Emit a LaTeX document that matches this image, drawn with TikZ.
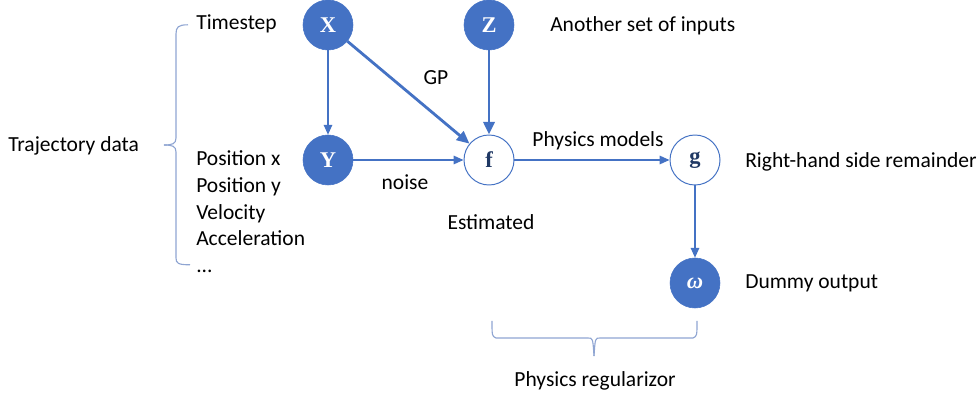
\documentclass[tikz,border=0pt]{standalone}
\usepackage{fontspec}
\setmainfont{Carlito}
\newfontfamily\letterfont{Liberation Serif}
\usetikzlibrary{arrows.meta}
\definecolor{nodeblue}{RGB}{68,114,196}
\definecolor{nodenavy}{RGB}{31,56,100}
\definecolor{bracegray}{RGB}{143,165,210}
\tikzset{
  obs/.style={circle, minimum size=1.25cm, inner sep=0pt, fill=nodeblue, draw=nodeblue, text=white, font=\letterfont\fontsize{16}{18}\selectfont\bfseries},
  latent/.style={circle, minimum size=1.25cm, inner sep=0pt, fill=white, draw=nodeblue, line width=0.7pt, text=nodenavy, font=\letterfont\fontsize{16}{18}\selectfont\bfseries},
  edge/.style={draw=nodeblue, line width=1.1pt, -{Triangle[length=7pt,width=6pt]}},
  bigedge/.style={draw=nodeblue, line width=2pt, -{Triangle[length=9pt,width=8pt]}},
  lbl/.style={font=\fontsize{15.3}{18.9}\selectfont, inner sep=0pt},
  brace/.style={draw=bracegray, line width=0.8pt}
}
\begin{document}
\begin{tikzpicture}
\useasboundingbox (0,0) rectangle (24.45,9.9);
% graph nodes
\node[obs] (X) at (8.2,9.275) {X};
\node[obs] (Z) at (12.225,9.275) {Z};
\node[obs] (Y) at (8.2,5.9) {Y};
\node[latent] (f) at (12.225,5.9) {f};
\node[latent] (g) at (17.375,5.9) {g};
\node[obs] (w) at (17.375,2.825) {\itshape ω};
% edges
\draw[edge] (X) -- (Y);
\draw[bigedge] (X) -- (f);
\draw[bigedge] (Z) -- (f);
\draw[edge] (Y) -- (f);
\draw[edge] (f) -- (g);
\draw[edge] (g) -- (w);
% labels
\node[lbl, anchor=west] (tstep) at (4.9,9.3) {Timestep};
\node[lbl, anchor=west] (inputs) at (13.75,9.25) {Another set of inputs};
\node[lbl] (gp) at (10.9,7.95) {GP};
\node[lbl, anchor=west] (traj) at (0.2,6.25) {Trajectory data};
\node[lbl, anchor=north west, align=left] (states) at (4.9,6.13) {Position x\\Position y\\Velocity\\Acceleration\\...};
\node[lbl] (noise) at (10.125,5.35) {noise};
\node[lbl] (phys) at (14.95,6.375) {Physics models};
\node[lbl] (est) at (12.275,4.35) {Estimated};
\node[lbl, anchor=west] (rhs) at (18.625,5.85) {Right-hand side remainder};
\node[lbl, anchor=west] (dummy) at (18.625,2.825) {Dummy output};
\node[lbl] (reg) at (14.875,0.375) {Physics regularizor};
% braces
\draw[brace] (4.7,9.28) .. controls (4.45,9.28) and (4.4,9.22) .. (4.4,9.05)
  -- (4.4,6.45) .. controls (4.4,6.3) and (4.3,6.275) .. (4.1,6.275);
\draw[brace] (4.1,6.275) .. controls (4.3,6.275) and (4.4,6.25) .. (4.4,6.1)
  -- (4.4,3.45) .. controls (4.4,3.32) and (4.45,3.28) .. (4.75,3.28);
\draw[brace] (12.3,1.875) .. controls (12.3,1.5) .. (12.4,1.45)
  -- (14.7,1.45) .. controls (14.82,1.45) .. (14.85,1.0);
\draw[brace] (17.425,1.875) .. controls (17.425,1.5) .. (17.325,1.45)
  -- (15.0,1.45) .. controls (14.88,1.45) .. (14.85,1.0);
\end{tikzpicture}
\end{document}
